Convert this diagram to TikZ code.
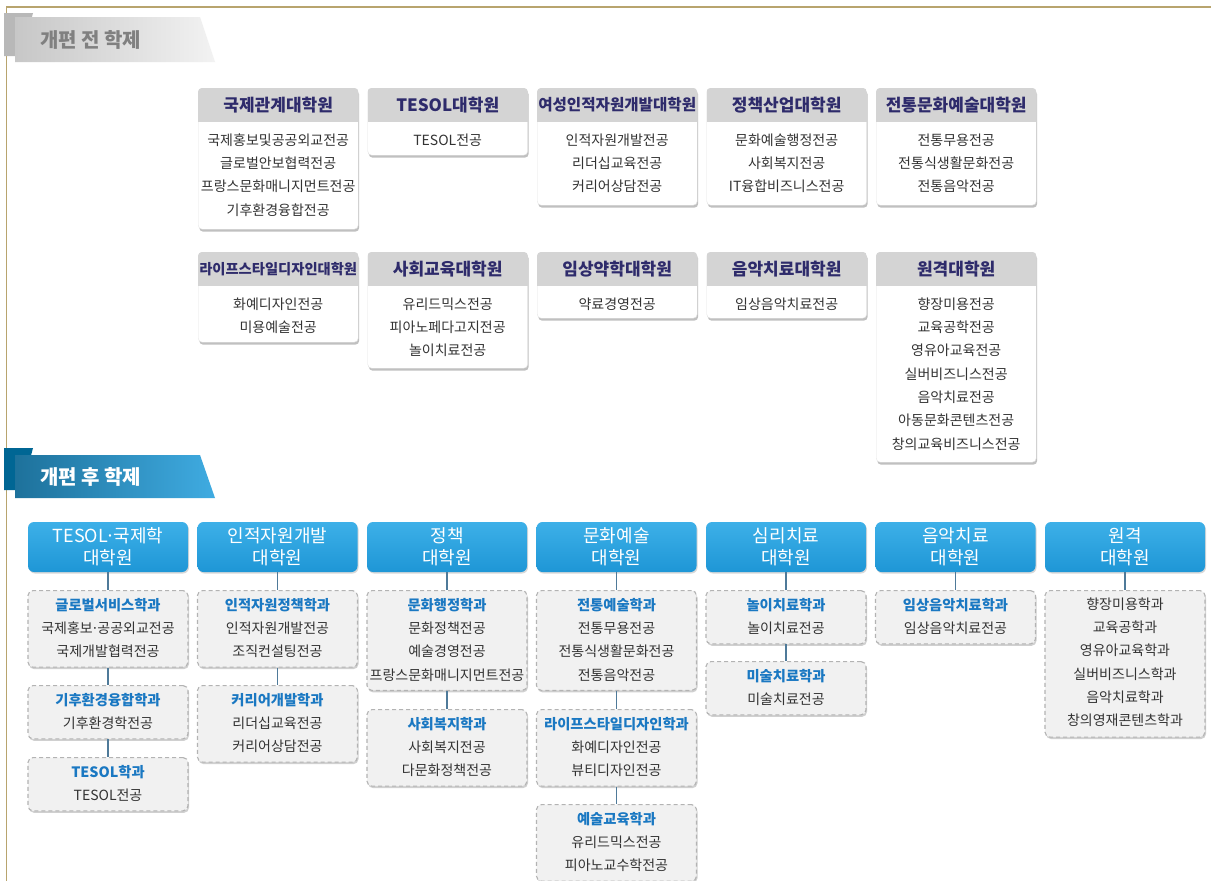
\documentclass[tikz,border=0pt]{standalone}
\usepackage{fontspec}
\setmainfont{Noto Sans CJK KR}
\usetikzlibrary{shadows}
\definecolor{gold}{HTML}{B8A46E}
\definecolor{hdrgray}{HTML}{D4D4D4}
\definecolor{hdrtext}{HTML}{2E2B6B}
\definecolor{bodytext}{HTML}{333333}
\definecolor{bblue}{HTML}{2AA2DE}
\definecolor{bbluetop}{HTML}{3DB0E8}
\definecolor{bbluebot}{HTML}{1E96D6}
\definecolor{dtitlec}{HTML}{1A78C2}
\definecolor{dfill}{HTML}{F1F1F1}
\definecolor{ddraw}{HTML}{B3B3B3}
\definecolor{connc}{HTML}{4F7A99}
\newcommand\mdot{\kern-0.12em·\kern-0.12em}
\tikzset{
  tbody/.style={draw=black!10, fill=white, rounded corners=4pt, minimum width=160pt, inner sep=0pt,
    drop shadow={shadow xshift=1pt, shadow yshift=-2.5pt, opacity=0.35, fill=black!70}},
  thead/.style={text=hdrtext, font=\fontsize{17}{20}\selectfont\bfseries, inner sep=0pt},
  tline/.style={text=bodytext, font=\fontsize{14}{16}\selectfont, inner sep=0pt},
  bhead/.style={top color=bbluetop, bottom color=bbluebot, rounded corners=6pt, minimum width=160pt,
    minimum height=50pt, align=center, text=white, font=\fontsize{18}{22}\selectfont, inner sep=0pt,
    drop shadow={shadow xshift=1pt, shadow yshift=-1.5pt, opacity=0.25, fill=black!60}},
  dashbox/.style={fill=dfill, draw=ddraw, line width=1.1pt, dash pattern=on 4pt off 3pt, rounded corners=5pt,
    minimum width=160pt, inner sep=0pt,
    drop shadow={shadow xshift=1pt, shadow yshift=-2pt, opacity=0.3, fill=black!60}},
  dtitle/.style={text=dtitlec, font=\fontsize{14.3}{16}\selectfont\bfseries, inner sep=0pt},
  dline/.style={text=bodytext, font=\fontsize{14}{16}\selectfont, inner sep=0pt},
  conn/.style={draw=connc, line width=1.2pt},
}
\newcommand\tbox[7]{%
  \node[tbody, minimum height=#4pt, anchor=north west] (#1) at (#2,#3) {};
  \begin{scope}
    \clip[rounded corners=4pt] (#1.north west) rectangle (#1.south east);
    \fill[hdrgray] (#1.north west) rectangle ([yshift=-34pt]#1.north east);
  \end{scope}
  \node[thead,#6] (#1-h) at ([yshift=-17pt]#1.north) {#5};
  \foreach \t [count=\i] in {#7} {
    \pgfmathsetmacro\yy{-52-23.3*(\i-1)}
    \node[tline] (#1-\i) at ([yshift=\yy pt]#1.north) {\t};
  }
}
\newcommand\dboxT[6]{%
  \pgfmathsetmacro\hh{30+23.3*(#4-1)}
  \node[dashbox, minimum height=\hh pt, anchor=north] (#1) at (#2,#3) {};
  \node[dtitle] (#1-t) at ([yshift=-15pt]#1.north) {#5};
  \foreach \t [count=\i] in {#6} {
    \pgfmathsetmacro\yy{-15-23.3*\i}
    \node[dline] (#1-\i) at ([yshift=\yy pt]#1.north) {\t};
  }
}
\newcommand\dboxP[5]{%
  \pgfmathsetmacro\hh{30+23.3*(#4-1)}
  \node[dashbox, minimum height=\hh pt, anchor=north] (#1) at (#2,#3) {};
  \foreach \t [count=\i] in {#5} {
    \pgfmathsetmacro\yy{-14-23.3*(\i-1)}
    \node[dline] (#1-\i) at ([yshift=\yy pt]#1.north) {\t};
  }
}
\begin{document}
\begin{tikzpicture}[x=1pt,y=-1pt]
\useasboundingbox (0,0) rectangle (1211,881);
\fill[white] (0,0) rectangle (1211,881);
% frame
\draw[gold, line width=1.2pt] (6.5,881) -- (6.5,7) -- (1211,7);
% banner 1
\fill[black!28] (4,13) -- (33,13) -- (22,56) -- (4,56) -- cycle;
\shade[left color=black!22, right color=black!5] (15,17) -- (200,17) -- (215,62) -- (15,62) -- cycle;
\node[anchor=west, text=black!50, font=\fontsize{20}{22}\selectfont\bfseries, inner sep=0pt] (ban1) at (40,40) {개편 전 학제};
% banner 2
\fill[black!70!blue!60!cyan] (4,448) -- (33,448) -- (22,490) -- (4,490) -- cycle;
\shade[left color=bblue!70!black, right color=bblue!90!white] (15,455) -- (200,455) -- (215,498) -- (15,498) -- cycle;
\node[anchor=west, text=white, font=\fontsize{20}{22}\selectfont\bfseries, inner sep=0pt] (ban2) at (40,477) {개편 후 학제};

% top row 1
\tbox{t1}{198}{88}{141}{국제관계대학원}{}{국제홍보및공공외교전공,글로벌안보협력전공,프랑스문화매니지먼트전공,기후환경융합전공}
\tbox{t2}{367.5}{88}{67}{TESOL대학원}{}{TESOL전공}
\tbox{t3}{537}{88}{117}{여성인적자원개발대학원}{font=\fontsize{15.6}{18}\selectfont\bfseries}{인적자원개발전공,리더십교육전공,커리어상담전공}
\tbox{t4}{706.5}{88}{117}{정책산업대학원}{}{문화예술행정전공,사회복지전공,IT융합비즈니스전공}
\tbox{t5}{876}{88}{117}{전통문화예술대학원}{}{전통무용전공,전통식생활문화전공,전통음악전공}
% top row 2
\tbox{u1}{198}{252}{90}{라이프스타일디자인대학원}{font=\fontsize{14.3}{18}\selectfont\bfseries}{화예디자인전공,미용예술전공}
\tbox{u2}{367.5}{252}{116}{사회교육대학원}{}{유리드믹스전공,피아노페다고지전공,놀이치료전공}
\tbox{u3}{537}{252}{66}{임상약학대학원}{}{약료경영전공}
\tbox{u4}{706.5}{252}{66}{음악치료대학원}{}{임상음악치료전공}
\tbox{u5}{876}{252}{210}{원격대학원}{}{향장미용전공,교육공학전공,영유아교육전공,실버비즈니스전공,음악치료전공,아동문화콘텐츠전공,창의교육비즈니스전공}

% bottom headers
\node[bhead] (B1) at (108,547) {TESOL\mdot 국제학\\대학원};
\node[bhead] (B2) at (277.5,547) {인적자원개발\\대학원};
\node[bhead] (B3) at (447,547) {정책\\대학원};
\node[bhead] (B4) at (616.5,547) {문화예술\\대학원};
\node[bhead] (B5) at (786,547) {심리치료\\대학원};
\node[bhead] (B6) at (955.5,547) {음악치료\\대학원};
\node[bhead] (B7) at (1125,547) {원격\\대학원};

% dashed boxes
\dboxT{c1a}{108}{590}{3}{글로벌서비스학과}{국제홍보\mdot 공공외교전공,국제개발협력전공}
\dboxT{c1b}{108}{685}{2}{기후환경융합학과}{기후환경학전공}
\dboxT{c1c}{108}{757}{2}{TESOL학과}{TESOL전공}
\dboxT{c2a}{277.5}{590}{3}{인적자원정책학과}{인적자원개발전공,조직컨설팅전공}
\dboxT{c2b}{277.5}{685}{3}{커리어개발학과}{리더십교육전공,커리어상담전공}
\dboxT{c3a}{447}{590}{4}{문화행정학과}{문화정책전공,예술경영전공,프랑스문화매니지먼트전공}
\dboxT{c3b}{447}{709}{3}{사회복지학과}{사회복지전공,다문화정책전공}
\dboxT{c4a}{616.5}{590}{4}{전통예술학과}{전통무용전공,전통식생활문화전공,전통음악전공}
\dboxT{c4b}{616.5}{709}{3}{라이프스타일디자인학과}{화예디자인전공,뷰티디자인전공}
\dboxT{c4c}{616.5}{804}{3}{예술교육학과}{유리드믹스전공,피아노교수학전공}
\dboxT{c5a}{786}{590}{2}{놀이치료학과}{놀이치료전공}
\dboxT{c5b}{786}{661}{2}{미술치료학과}{미술치료전공}
\dboxT{c6a}{955.5}{590}{2}{임상음악치료학과}{임상음악치료전공}
\dboxP{c7a}{1125}{590}{6}{향장미용학과,교육공학과,영유아교육학과,실버비즈니스학과,음악치료학과,창의영재콘텐츠학과}

% connectors
\draw[conn] (B1.south) -- (c1a.north);
\draw[conn] (c1a.south) -- (c1b.north);
\draw[conn] (c1b.south) -- (c1c.north);
\draw[conn] (B2.south) -- (c2a.north);
\draw[conn] (c2a.south) -- (c2b.north);
\draw[conn] (B3.south) -- (c3a.north);
\draw[conn] (c3a.south) -- (c3b.north);
\draw[conn] (B4.south) -- (c4a.north);
\draw[conn] (c4a.south) -- (c4b.north);
\draw[conn] (c4b.south) -- (c4c.north);
\draw[conn] (B5.south) -- (c5a.north);
\draw[conn] (c5a.south) -- (c5b.north);
\draw[conn] (B6.south) -- (c6a.north);
\draw[conn] (B7.south) -- (c7a.north);
\end{tikzpicture}
\end{document}
